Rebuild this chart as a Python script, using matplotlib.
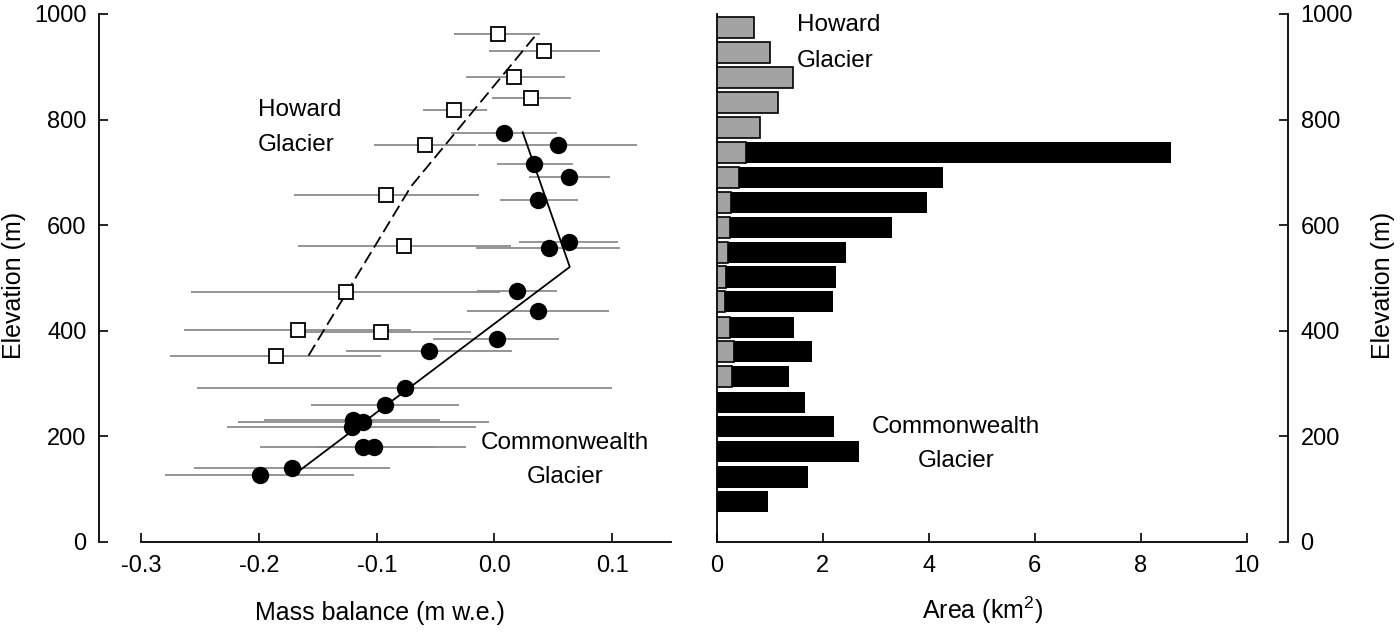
import numpy as np
import matplotlib.pyplot as plt

plt.rcParams['font.family'] = ['Liberation Sans', 'DejaVu Sans']
plt.rcParams['mathtext.fontset'] = 'custom'
plt.rcParams['mathtext.rm'] = 'Liberation Sans'

# Howard Glacier, mass balance by elevation (open squares)
how_mb = np.array([0.003, 0.042, 0.017, 0.031, -0.034, -0.059, -0.092, -0.077,
                   -0.126, -0.167, -0.096, -0.186])
how_elev = np.array([963, 929, 880, 840, 819, 752, 658, 561, 473, 402, 397, 353])
how_lo = np.array([-0.034, -0.005, -0.024, -0.002, -0.061, -0.102, -0.170, -0.167,
                   -0.258, -0.264, -0.167, -0.276])
how_hi = np.array([0.039, 0.090, 0.060, 0.065, -0.006, -0.016, -0.013, 0.014,
                   0.005, -0.071, -0.020, -0.096])

# Commonwealth Glacier (filled circles)
com_mb = np.array([0.008, 0.054, 0.034, 0.063, 0.037, 0.063, 0.046, 0.019, 0.037,
                   0.002, -0.056, -0.076, -0.093, -0.120, -0.112, -0.121, -0.112,
                   -0.102, -0.172, -0.199])
com_elev = np.array([775, 751, 715, 692, 648, 569, 556, 475, 438, 384, 362, 291,
                     260, 231, 228, 218, 179, 179, 141, 126])
com_lo = np.array([-0.037, -0.014, 0.002, 0.029, 0.005, 0.021, -0.016, -0.015,
                   -0.023, -0.052, -0.126, -0.253, -0.156, -0.196, -0.218, -0.227,
                   -0.152, -0.199, -0.255, -0.280])
com_hi = np.array([0.053, 0.121, 0.067, 0.098, 0.071, 0.105, 0.107, 0.053, 0.097,
                   0.055, 0.015, 0.100, -0.030, -0.046, -0.005, -0.016, -0.050,
                   -0.024, -0.089, -0.119])

# piecewise fits
how_fit_mb = [-0.158, -0.071, 0.034]
how_fit_elev = [353, 673, 957]
com_fit_mb = [-0.167, 0.064, 0.024]
com_fit_elev = [133, 521, 776]

# area per elevation band
band_elev = [974, 927, 880, 833, 785, 738, 691, 643, 596, 549,
             502, 455, 407, 360, 313, 265, 218, 171, 123, 76]
howard_area = [0.69, 1.01, 1.43, 1.16, 0.82, 0.55, 0.42, 0.27, 0.24, 0.20,
               0.17, 0.15, 0.24, 0.32, 0.28, 0, 0, 0, 0, 0]
comm_area = [0, 0, 0, 0, 0, 8.58, 4.26, 3.97, 3.30, 2.43,
             2.25, 2.19, 1.46, 1.79, 1.35, 1.66, 2.21, 2.69, 1.71, 0.96]

W, H = 1400, 632
fig = plt.figure(figsize=(W / 100, H / 100), dpi=100)

# ---- left panel: mass balance
ax1 = fig.add_axes([99 / W, 90 / H, 572 / W, 528 / H])
ax1.set_xlim(-0.336, 0.15)
ax1.set_ylim(0, 1000)
ax1.spines['top'].set_visible(False)
ax1.spines['right'].set_visible(False)
ax1.spines['left'].set_bounds(0, 1000)
ax1.spines['bottom'].set_bounds(-0.3, 0.15)
for s in ax1.spines.values():
    s.set_linewidth(1.3)
ax1.set_xticks([-0.3, -0.2, -0.1, 0.0, 0.1])
ax1.set_xticklabels(['-0.3', '-0.2', '-0.1', '0.0', '0.1'])
ax1.set_yticks(range(0, 1001, 200))
ax1.tick_params(direction='in', length=6.5, width=1.2, labelsize=17, pad=9)

ax1.errorbar(how_mb, how_elev, xerr=[how_mb - how_lo, how_hi - how_mb], fmt='none',
             ecolor='#8c8c8c', elinewidth=1.3, capsize=0, zorder=1)
ax1.errorbar(com_mb, com_elev, xerr=[com_mb - com_lo, com_hi - com_mb], fmt='none',
             ecolor='#8c8c8c', elinewidth=1.3, capsize=0, zorder=1)
ax1.plot(how_fit_mb, how_fit_elev, color='black', lw=1.3, dashes=(7, 3), zorder=2)
ax1.plot(com_fit_mb, com_fit_elev, color='black', lw=1.3, zorder=2)
ax1.plot(how_mb, how_elev, 's', ms=9.5, mfc='white', mec='black', mew=1.3, zorder=3)
ax1.plot(com_mb, com_elev, 'o', ms=11.5, color='black', zorder=3)

ax1.text(-0.201, 785, 'Howard\nGlacier', ha='left', va='center', fontsize=17.5,
         linespacing=1.8)
ax1.text(0.060, 156, 'Commonwealth\nGlacier', ha='center', va='center',
         fontsize=17.5, linespacing=1.7)

# ---- right panel: area
ax2 = fig.add_axes([717 / W, 90 / H, 571 / W, 528 / H])
ax2.set_xlim(0, 10.78)
ax2.set_ylim(0, 1000)
ax2.spines['top'].set_visible(False)
ax2.spines['left'].set_bounds(0, 1000)
ax2.spines['right'].set_bounds(0, 1000)
ax2.spines['bottom'].set_bounds(0, 10)
for s in ax2.spines.values():
    s.set_linewidth(1.3)
ax2.yaxis.tick_right()
ax2.set_xticks(range(0, 11, 2))
ax2.set_yticks(range(0, 1001, 200))
ax2.tick_params(direction='in', length=6.5, width=1.2, labelsize=17, pad=9)
ax2.tick_params(axis='y', left=False, right=True)

ax2.barh(band_elev, comm_area, height=40, color='black', zorder=2)
ax2.barh(band_elev, howard_area, height=40, color='#a3a3a3', edgecolor='black',
         linewidth=1.2, zorder=3)

ax2.text(1.51, 945, 'Howard\nGlacier', ha='left', va='center', fontsize=17.5,
         linespacing=1.85)
ax2.text(4.51, 185, 'Commonwealth\nGlacier', ha='center', va='center',
         fontsize=17.5, linespacing=1.7)

# axis titles
fig.text(14 / W, 1 - 285 / H, 'Elevation (m)', rotation=90, ha='center',
         va='center', fontsize=18)
fig.text(1383 / W, 1 - 285 / H, 'Elevation (m)', rotation=90, ha='center',
         va='center', fontsize=18)
fig.text(380 / W, 12 / H, 'Mass balance (m w.e.)', ha='center', va='baseline',
         fontsize=18)
fig.text(982 / W, 13 / H, r'Area (km$^\mathregular{2}$)', ha='center',
         va='baseline', fontsize=18)

fig.savefig('out.png', dpi=100)
